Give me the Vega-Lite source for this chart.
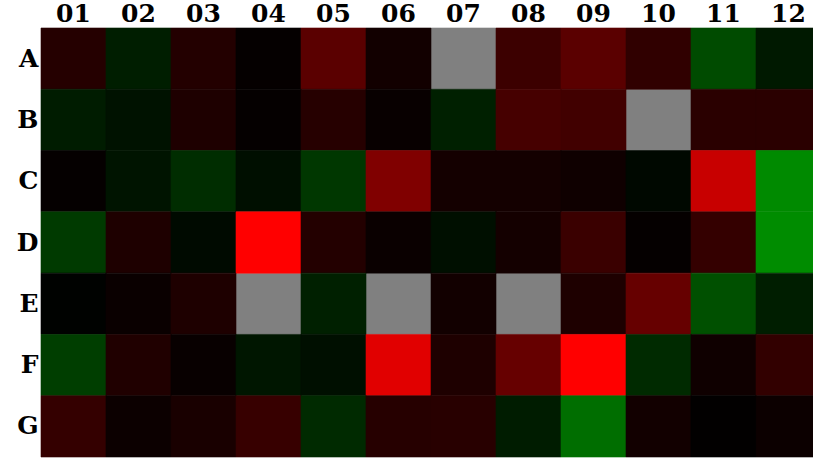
{
  "$schema": "https://vega.github.io/schema/vega-lite/v6.json",
  "width": 780,
  "height": 429,
  "padding": {"left": 41, "top": 28, "right": 0, "bottom": 6},
  "autosize": {"type": "none"},
  "background": "white",
  "data": {"values": [
    {"row": "A", "col": "01", "v": 37}, {"row": "A", "col": "02", "v": -30}, {"row": "A", "col": "03", "v": 35}, {"row": "A", "col": "04", "v": 5}, {"row": "A", "col": "05", "v": 90}, {"row": "A", "col": "06", "v": 18}, {"row": "A", "col": "07", "v": null}, {"row": "A", "col": "08", "v": 60}, {"row": "A", "col": "09", "v": 90}, {"row": "A", "col": "10", "v": 48}, {"row": "A", "col": "11", "v": -75}, {"row": "A", "col": "12", "v": -25},
    {"row": "B", "col": "01", "v": -28}, {"row": "B", "col": "02", "v": -18}, {"row": "B", "col": "03", "v": 30}, {"row": "B", "col": "04", "v": 5}, {"row": "B", "col": "05", "v": 38}, {"row": "B", "col": "06", "v": 8}, {"row": "B", "col": "07", "v": -32}, {"row": "B", "col": "08", "v": 70}, {"row": "B", "col": "09", "v": 65}, {"row": "B", "col": "10", "v": null}, {"row": "B", "col": "11", "v": 42}, {"row": "B", "col": "12", "v": 42},
    {"row": "C", "col": "01", "v": 5}, {"row": "C", "col": "02", "v": -20}, {"row": "C", "col": "03", "v": -45}, {"row": "C", "col": "04", "v": -15}, {"row": "C", "col": "05", "v": -55}, {"row": "C", "col": "06", "v": 128}, {"row": "C", "col": "07", "v": 20}, {"row": "C", "col": "08", "v": 20}, {"row": "C", "col": "09", "v": 15}, {"row": "C", "col": "10", "v": -8}, {"row": "C", "col": "11", "v": 200}, {"row": "C", "col": "12", "v": -138},
    {"row": "D", "col": "01", "v": -58}, {"row": "D", "col": "02", "v": 30}, {"row": "D", "col": "03", "v": -10}, {"row": "D", "col": "04", "v": 255}, {"row": "D", "col": "05", "v": 35}, {"row": "D", "col": "06", "v": 10}, {"row": "D", "col": "07", "v": -15}, {"row": "D", "col": "08", "v": 20}, {"row": "D", "col": "09", "v": 58}, {"row": "D", "col": "10", "v": 5}, {"row": "D", "col": "11", "v": 52}, {"row": "D", "col": "12", "v": -140},
    {"row": "E", "col": "01", "v": -2}, {"row": "E", "col": "02", "v": 10}, {"row": "E", "col": "03", "v": 30}, {"row": "E", "col": "04", "v": null}, {"row": "E", "col": "05", "v": -32}, {"row": "E", "col": "06", "v": null}, {"row": "E", "col": "07", "v": 18}, {"row": "E", "col": "08", "v": null}, {"row": "E", "col": "09", "v": 30}, {"row": "E", "col": "10", "v": 102}, {"row": "E", "col": "11", "v": -80}, {"row": "E", "col": "12", "v": -30},
    {"row": "F", "col": "01", "v": -62}, {"row": "F", "col": "02", "v": 32}, {"row": "F", "col": "03", "v": 8}, {"row": "F", "col": "04", "v": -22}, {"row": "F", "col": "05", "v": -15}, {"row": "F", "col": "06", "v": 225}, {"row": "F", "col": "07", "v": 30}, {"row": "F", "col": "08", "v": 102}, {"row": "F", "col": "09", "v": 255}, {"row": "F", "col": "10", "v": -42}, {"row": "F", "col": "11", "v": 15}, {"row": "F", "col": "12", "v": 50},
    {"row": "G", "col": "01", "v": 52}, {"row": "G", "col": "02", "v": 12}, {"row": "G", "col": "03", "v": 25}, {"row": "G", "col": "04", "v": 55}, {"row": "G", "col": "05", "v": -42}, {"row": "G", "col": "06", "v": 38}, {"row": "G", "col": "07", "v": 40}, {"row": "G", "col": "08", "v": -28}, {"row": "G", "col": "09", "v": -110}, {"row": "G", "col": "10", "v": 18}, {"row": "G", "col": "11", "v": 2}, {"row": "G", "col": "12", "v": 12}
  ]},
  "encoding": {
    "x": {"field": "col", "type": "ordinal", "scale": {"paddingInner": 0, "paddingOuter": 0},
      "axis": {"orient": "top", "title": null, "labelAngle": 0, "domain": false, "ticks": false, "tickSize": 0, "labelPadding": 2, "labelFont": "DejaVu Serif", "labelFontWeight": "bold", "labelFontSize": 25, "labelColor": "#000000"}},
    "y": {"field": "row", "type": "ordinal", "scale": {"paddingInner": 0, "paddingOuter": 0},
      "axis": {"title": null, "domain": false, "ticks": false, "tickSize": 0, "labelPadding": 3, "labelFont": "DejaVu Serif", "labelFontWeight": "bold", "labelFontSize": 25, "labelColor": "#000000"}}
  },
  "layer": [
    {
      "transform": [{"filter": "datum.v === null"}],
      "mark": {"type": "rect", "color": "#808080", "stroke": "#808080", "strokeWidth": 0.6}
    },
    {
      "transform": [{"filter": "datum.v !== null"}],
      "mark": {"type": "rect", "strokeWidth": 0.6},
      "encoding": {
        "color": {"field": "v", "type": "quantitative",
          "scale": {"type": "linear", "domain": [-255, 0, 255], "range": ["#00ff00", "#000000", "#ff0000"], "interpolate": "rgb"},
          "legend": null},
        "stroke": {"field": "v", "type": "quantitative",
          "scale": {"type": "linear", "domain": [-255, 0, 255], "range": ["#00ff00", "#000000", "#ff0000"], "interpolate": "rgb"},
          "legend": null}
      }
    }
  ],
  "config": {"view": {"stroke": null}}
}
